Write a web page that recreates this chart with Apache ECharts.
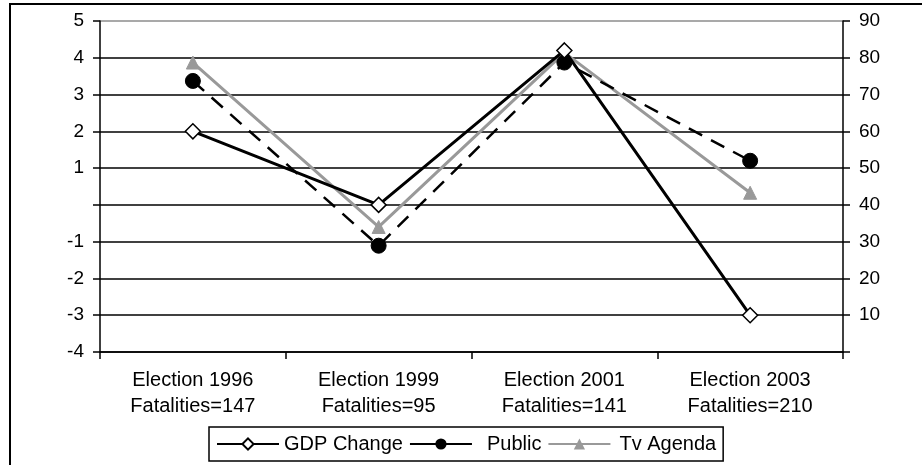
<!DOCTYPE html>
<html>
<head>
<meta charset="utf-8">
<script src="https://cdn.jsdelivr.net/npm/echarts@6/dist/echarts.min.js"></script>
<style>
html,body{margin:0;padding:0;background:#fff;}
#main{width:922px;height:465px;}
</style>
</head>
<body>
<div id="main"></div>
<script>
var elections = ['Election 1996', 'Election 1999', 'Election 2001', 'Election 2003'];
var fatalities = [147, 95, 141, 210];
var gdpChange = [2, 0, 4.2, -3];
var publicVals = [73.7, 28.9, 78.7, 52];
var tvAgenda = [78.7, 34, 81.4, 43.3];
var leftTicks = [-4, 5, 1];
var rightTicks = [0, 90, 10];

var categories = elections.map(function (e, i) { return e + '\nFatalities=' + fatalities[i]; });
var FONT = 'Liberation Sans, Arial, sans-serif';

var chart = echarts.init(document.getElementById('main'), null, {renderer: 'canvas'});
var gridColors = [];
for (var i = 0; i < 10; i++) gridColors.push(i === 9 ? '#8c8c8c' : '#000');

chart.setOption({
  animation: false,
  backgroundColor: '#fff',
  textStyle: {fontFamily: FONT},
  graphic: [{
    type: 'rect', silent: true, z: -1,
    shape: {x: 10, y: 4, width: 930, height: 480},
    style: {fill: null, stroke: '#000', lineWidth: 2}
  }],
  grid: {left: 100, right: 79, top: 21, bottom: 113, containLabel: false},
  legend: {
    left: 209, top: 427,
    itemWidth: 62, itemHeight: 14, itemGap: 6,
    padding: [7, 7, 7, 7],
    borderColor: '#000', borderWidth: 1.5, borderRadius: 0,
    textStyle: {fontFamily: FONT, fontSize: 20, color: '#000'},
    data: [
      {name: 'GDP Change'},
      {name: 'Public', lineStyle: {type: 'solid'}, textStyle: {padding: [0, 0, 0, 10]}},
      {name: 'Tv Agenda', textStyle: {padding: [0, 0, 0, 4]}}
    ]
  },
  xAxis: {
    type: 'category',
    data: categories,
    boundaryGap: true,
    axisLine: {onZero: false, lineStyle: {color: '#000', width: 1.5}},
    axisTick: {show: true, length: 7, lineStyle: {color: '#000', width: 1.5}},
    axisLabel: {fontFamily: FONT, fontSize: 20, color: '#000', lineHeight: 26, margin: 15}
  },
  yAxis: [{
    type: 'value', min: leftTicks[0], max: leftTicks[1], interval: leftTicks[2],
    axisLine: {show: true, lineStyle: {color: '#000', width: 1.5}},
    axisTick: {show: true, length: 7, lineStyle: {color: '#000', width: 1.5}},
    axisLabel: {fontFamily: FONT, fontSize: 19, color: '#000', margin: 16,
      formatter: function (v) { return v === 0 ? '' : String(v); }},
    splitLine: {show: true, lineStyle: {color: gridColors, width: 1.5}}
  }, {
    type: 'value', min: rightTicks[0], max: rightTicks[1], interval: rightTicks[2],
    axisLine: {show: true, lineStyle: {color: '#000', width: 1.5}},
    axisTick: {show: true, length: 7, lineStyle: {color: '#000', width: 1.5}},
    axisLabel: {fontFamily: FONT, fontSize: 19, color: '#000', margin: 16,
      formatter: function (v) { return v === 0 ? '' : String(v); }},
    splitLine: {show: false}
  }],
  series: [{
    name: 'GDP Change', type: 'line', yAxisIndex: 0, data: gdpChange,
    symbol: 'diamond', symbolSize: 15, z: 4,
    lineStyle: {color: '#000', width: 3},
    itemStyle: {color: '#fff', borderColor: '#000', borderWidth: 1.5}
  }, {
    name: 'Public', type: 'line', yAxisIndex: 1, data: publicVals,
    symbol: 'circle', symbolSize: 15, z: 3,
    lineStyle: {color: '#000', width: 2.5, type: [15, 10]},
    itemStyle: {color: '#000', borderColor: '#000'}
  }, {
    name: 'Tv Agenda', type: 'line', yAxisIndex: 1, data: tvAgenda,
    symbol: 'triangle', symbolSize: 13, z: 2,
    lineStyle: {color: '#999', width: 3},
    itemStyle: {color: '#999', borderColor: '#999'}
  }]
});
</script>
</body>
</html>
